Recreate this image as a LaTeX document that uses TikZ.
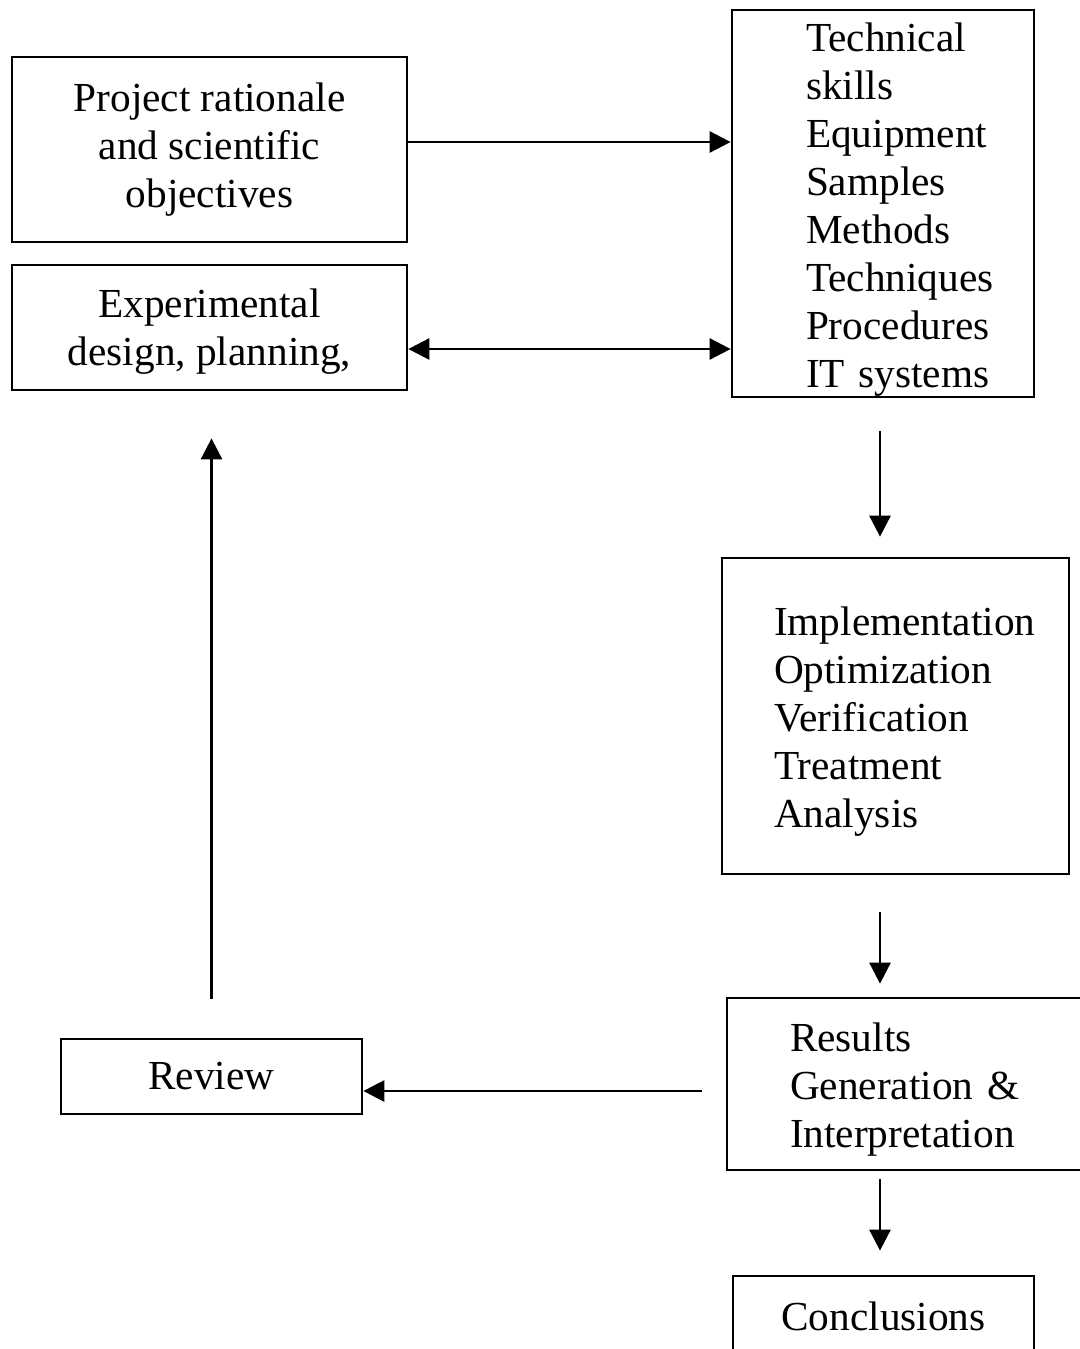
\documentclass[tikz,border=0pt]{standalone}
\usepackage{fontspec}
\setmainfont{Liberation Serif}
\usetikzlibrary{arrows.meta,positioning,calc}

\begin{document}
\begin{tikzpicture}[x=0.02cm,y=-0.02cm,
  box/.style={draw,line width=1.6pt,align=center,
              font=\fontsize{23.5}{27.3}\selectfont},
  listbox/.style={box,align=left,inner xsep=0pt,inner ysep=0pt,
              execute at begin node={\leftskip=#1\rule{0pt}{0.81cm}}},
  arr/.style={-{Triangle[length=0.42cm,width=0.42cm]},line width=1.6pt},
  arrboth/.style={{Triangle[length=0.42cm,width=0.42cm]}-{Triangle[length=0.42cm,width=0.42cm]},line width=1.6pt}]
  \useasboundingbox (0,0) rectangle (1079,1349);

  % left column
  \node[box,minimum width=7.9cm,minimum height=3.7cm] (proj) at (209.5,149.5)
    {Project rationale\\and scientific\\objectives};
  \node[box,minimum width=7.9cm,minimum height=2.5cm] (exper) at (209.5,327.5)
    {\rule{0pt}{0.73cm}Experimental\\design, planning,};
  \node[box,minimum width=6.02cm,minimum height=1.5cm] (review) at (211.5,1076.5) {Review};

  % right column
  \node[listbox=1.48cm,text width=6.04cm,minimum height=7.74cm] (tech) at (883,203.5)
    {Technical\\skills\\Equipment\\Samples\\Methods\\Techniques\\Procedures\\IT systems};
  \node[listbox=1.04cm,text width=6.94cm,minimum height=6.32cm] (impl) at (895.5,716)
    {Implementation\\Optimization\\Verification\\Treatment\\Analysis};
  \node[listbox=1.26cm,text width=7.1cm,minimum height=3.44cm] (res) at (904.5,1084)
    {Results\\Generation \&\\Interpretation};
  \node[box,minimum width=6.02cm,minimum height=1.6cm] (concl) at (883.5,1316) {Conclusions};

  \coordinate (spine) at ([xshift=-0.06cm]tech.south);

  % connectors
  \draw[arr] ([yshift=0.15cm]proj.east) -- ([yshift=0.15cm]proj.east -| tech.west);
  \draw[arrboth] ([yshift=-0.43cm]exper.east) -- ([yshift=-0.43cm]exper.east -| tech.west);
  \draw[arr,shorten <=0.66cm,shorten >=0.4cm] (spine) -- (spine |- impl.north);
  \draw[arr,shorten <=0.74cm,shorten >=0.26cm] (impl.south -| spine) -- (res.north -| spine);
  \draw[arr,shorten <=0.16cm,shorten >=0.48cm] (res.south -| spine) -- (concl.north -| spine);
  \draw[arr,shorten <=0.48cm] ([yshift=-0.14cm]res.west) -- ([yshift=-0.14cm]res.west -| review.east);
  \draw[arr,shorten <=0.78cm,shorten >=0.94cm] (review.north) -- (review.north |- exper.south);
\end{tikzpicture}
\end{document}
